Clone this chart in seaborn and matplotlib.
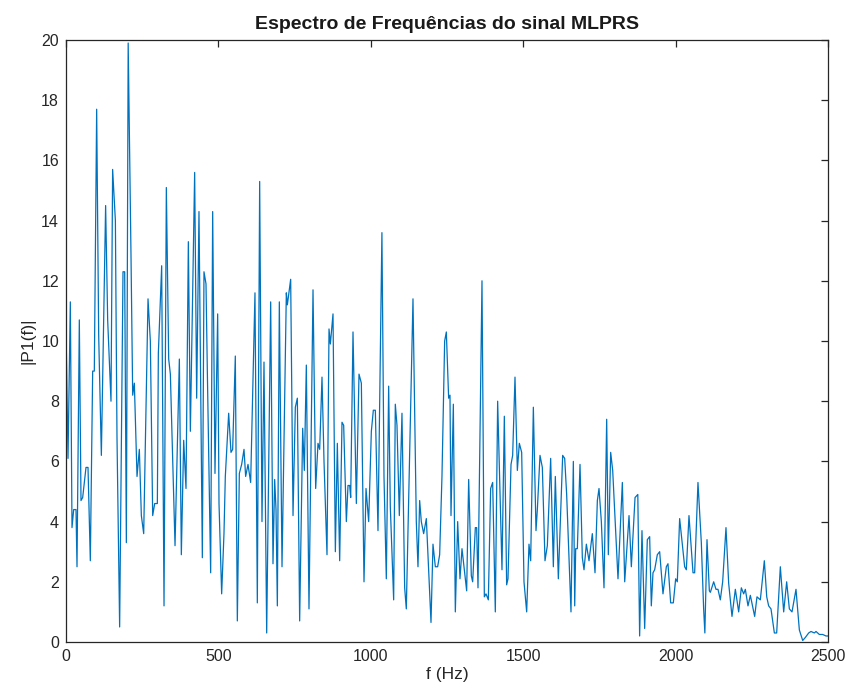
import matplotlib
matplotlib.use("Agg")
import matplotlib.pyplot as plt
import seaborn as sns
import pandas as pd

# Single-sided amplitude spectrum |P1(f)| of the MLPRS signal
freq_hz = [
    0, 6.6, 14.2, 19.7, 25.2, 32.8, 36.1, 43.7, 49.2, 54.7, 65.6, 72.2, 79.8, 87.5, 92.9,
    100.6, 107.2, 116, 130, 136.7, 147.6, 153, 162, 167.3, 176, 187, 192.5, 198,
    204, 213.3, 218.8, 224.2, 233, 240.6, 247.2, 254.9, 269.1, 276.7, 284.4, 291, 299.7,
    303, 313.9, 321.6, 329.2, 336.9, 342.4, 357.7, 371.9, 378.4, 386.1, 393.7, 401.4, 408,
    422.1, 428.7, 436.3, 447.3, 452.7, 459.3, 463.7, 474.6, 481.2, 488.8, 497.6, 502,
    510.7, 518.3, 522.7, 533.7, 541.3, 546.8, 555.5, 562.1, 568.7, 576.3, 584, 589.4,
    597.1, 605.8, 620,
    627.7, 635.4, 643, 649.6, 658.4, 671.5, 679.1, 684.6, 689, 693.4, 699.9, 708.7,
    722.9, 726.2, 737.1, 744.8, 752.4, 759, 766.6, 776.5, 781.9, 788.5, 797.2, 810.4,
    819.1, 826.8,
    832.3, 839.9, 846.5, 856.3, 862.9, 867.3, 876, 883.7, 890.2, 897.9, 905.5, 911,
    919.8, 925.2, 930.7, 934, 941.6, 952.6, 961.3, 969, 977.7, 984.3, 993, 1001.8,
    1008.3, 1014.9, 1023.6, 1036.5,
    1043.3, 1050.9, 1058.6, 1064, 1075, 1080.4, 1085.9, 1093.6, 1102.3, 1111.1, 1116.5,
    1138.4, 1149.3, 1154.8, 1160.3, 1165.7, 1173.4, 1182.2, 1197.5, 1204, 1211.7,
    1219.3, 1225.9, 1233.5, 1242.3, 1247.8,
    1255.4, 1259.8, 1263.1, 1270.8, 1277.3, 1285, 1292.6, 1299.2, 1314.5, 1321.1,
    1329.8, 1334.2, 1343, 1347.3, 1351.7, 1364.8, 1372.5, 1377.9, 1385.6, 1393.2,
    1399.8, 1408.5, 1416.2, 1430.4, 1438.1, 1445.7, 1450.1, 1460,
    1465.4, 1473.1, 1480.8, 1487.3, 1495, 1502.6, 1511.4, 1519, 1524.5, 1533.3, 1542,
    1546.4, 1555.1, 1562.8, 1571.5, 1579.2, 1590.1, 1598.9, 1605.4, 1615.3, 1629.5,
    1636.1, 1642.6, 1656.8, 1664.5,
    1669, 1672.2, 1677.6, 1686.4, 1694, 1699.5, 1707.2, 1715.9, 1726.8, 1735.6, 1743.3,
    1748.7, 1756.4, 1765.1, 1773.9, 1779.3, 1787, 1793.6, 1811, 1825.3, 1833, 1847.2,
    1854.8, 1866.9, 1876,
    1882, 1889.7, 1898.5, 1907.2, 1914.9, 1920.3, 1925.8, 1931.3, 1940, 1947.7, 1958.6,
    1969.6, 1975, 1983.8, 1992.5, 2000.2, 2005.6, 2013.3, 2029.7, 2035.2, 2043.9,
    2057.1, 2062.5, 2073.4, 2084.4, 2092,
    2096, 2103, 2110.7, 2114, 2124.9, 2132.5, 2139.1, 2146.7, 2154.4, 2165.3, 2174.1,
    2185, 2196, 2206.9, 2215.7, 2223.3, 2228.8, 2237.5, 2245.2, 2259.4, 2267, 2278,
    2291.1, 2299,
    2305.3, 2313, 2324, 2331.6, 2343.6, 2354.6, 2364.4, 2373.2, 2381.9, 2395, 2406,
    2417, 2425.6, 2436.6, 2444.2, 2455.2, 2460.6, 2471.6, 2482.5, 2493.5, 2500,
]

magnitude = [
    10.5, 6.1, 11.3, 3.8, 4.4, 4.4, 2.5, 10.7, 4.7, 4.8, 5.8, 5.8, 2.7, 9.0, 9.0,
    17.7, 10.2, 6.2, 14.5, 10.7, 8.0, 15.7, 14.0, 6.8, 0.5, 12.3, 12.3, 3.3,
    19.9, 12.8, 8.2, 8.6, 5.5, 6.4, 4.2, 3.6, 11.4, 10.0, 4.2, 4.6, 4.6,
    9.6, 12.5, 1.2, 15.1, 9.4, 8.9, 3.2, 9.4, 2.9, 6.7, 5.1, 13.3, 7.0,
    15.6, 8.1, 14.3, 2.8, 12.3, 11.9, 9.0, 2.3, 14.3, 5.6, 10.9, 4.6,
    1.6, 3.6, 5.5, 7.6, 6.3, 6.4, 9.5, 0.7, 5.6, 5.9, 6.4, 5.5,
    5.9, 5.3, 11.6,
    1.3, 15.3, 4.0, 9.3, 0.3, 11.3, 2.6, 5.4, 4.4, 1.2, 11.3, 2.5,
    11.6, 11.2, 12.05, 4.2, 7.8, 8.1, 0.7, 7.1, 5.7, 9.2, 1.1, 11.7,
    5.1, 6.6,
    6.4, 8.8, 6.0, 2.9, 10.4, 9.9, 10.9, 3.0, 6.6, 2.7, 7.3, 7.2,
    4.0, 5.2, 5.2, 4.8, 10.3, 4.6, 8.9, 8.6, 2.0, 5.1, 4.0, 7.0,
    7.7, 7.7, 3.7, 13.6,
    5.5, 2.1, 8.5, 4.5, 1.4, 7.9, 7.2, 4.2, 7.6, 1.8, 1.1,
    11.4, 4.0, 2.5, 4.7, 4.0, 3.6, 4.1, 0.65, 3.25, 2.5,
    2.5, 2.9, 5.5, 10.0, 10.3,
    8.1, 8.2, 4.2, 7.9, 1.0, 4.0, 2.1, 3.1, 1.7, 5.4,
    2.2, 2.0, 3.8, 3.8, 1.8, 12.0, 1.5, 1.6, 1.4, 5.1,
    5.3, 1.0, 8.0, 2.4, 7.5, 1.9, 2.1, 5.9,
    6.2, 8.8, 5.7, 6.6, 6.3, 2.0, 1.0, 3.25, 2.7, 7.8, 3.7,
    4.4, 6.2, 5.8, 2.7, 3.2, 6.1, 2.5, 5.5, 2.1, 6.2,
    6.1, 4.9, 1.0, 6.0,
    1.2, 3.1, 3.1, 5.9, 2.8, 2.4, 3.25, 2.7, 3.6, 2.3, 4.7,
    5.1, 4.0, 1.8, 7.4, 2.9, 6.3, 5.7, 2.1, 5.3, 2.0, 4.2,
    2.5, 4.8, 4.9,
    0.2, 3.7, 0.45, 3.4, 3.5, 1.2, 2.3, 2.4, 2.9, 3.0, 1.6,
    2.5, 2.6, 1.3, 1.3, 2.1, 2.0, 4.1, 2.5, 2.4, 4.2,
    2.3, 2.3, 5.3, 3.3, 1.1,
    0.3, 3.4, 1.7, 1.65, 2.0, 1.75, 1.75, 1.4, 2.0, 3.8, 1.95,
    0.85, 1.75, 1.0, 1.8, 1.6, 1.75, 1.2, 1.55, 0.85, 1.5, 1.4,
    2.7, 1.5,
    1.2, 1.1, 0.3, 0.3, 2.5, 1.0, 2.0, 1.1, 1.0, 1.75, 0.4,
    0.05, 0.15, 0.3, 0.35, 0.3, 0.35, 0.25, 0.25, 0.2, 0.2,
]

x_ticks = [0, 500, 1000, 1500, 2000, 2500]
y_ticks = [0, 2, 4, 6, 8, 10, 12, 14, 16, 18, 20]

spectrum = pd.DataFrame({"f": freq_hz, "P1": magnitude})

sns.set_style("white")
plt.rcParams["font.family"] = ["Liberation Sans", "DejaVu Sans"]

fig = plt.figure(figsize=(8.48, 6.91), dpi=100)
ax = fig.add_axes([66 / 848, 1 - 642 / 691, 762 / 848, 602 / 691])

sns.lineplot(data=spectrum, x="f", y="P1", ax=ax, color="#0072BD",
             linewidth=0.9, estimator=None, sort=False)

ax.set_xlim(0, 2500)
ax.set_ylim(0, 20)
ax.set_xticks(x_ticks)
ax.set_yticks(y_ticks)
ax.set_xticklabels([str(t) for t in x_ticks])
ax.set_yticklabels([str(t) for t in y_ticks])

axis_color = "#262626"
for side in ["left", "right", "top", "bottom"]:
    ax.spines[side].set_visible(True)
    ax.spines[side].set_color(axis_color)
    ax.spines[side].set_linewidth(0.9)
ax.tick_params(direction="in", length=5, width=0.9, colors=axis_color,
               labelsize=11.5, top=True, right=True, pad=5)

ax.set_xlabel("f (Hz)", fontsize=12.5, color=axis_color, labelpad=2)
ax.set_ylabel("|P1(f)|", fontsize=12.5, color=axis_color, labelpad=4)
ax.set_title("Espectro de Frequências do sinal MLPRS", fontsize=14,
             fontweight="bold", color="#1a1a1a", pad=8)

fig.savefig("out.png", dpi=100, facecolor="white")
